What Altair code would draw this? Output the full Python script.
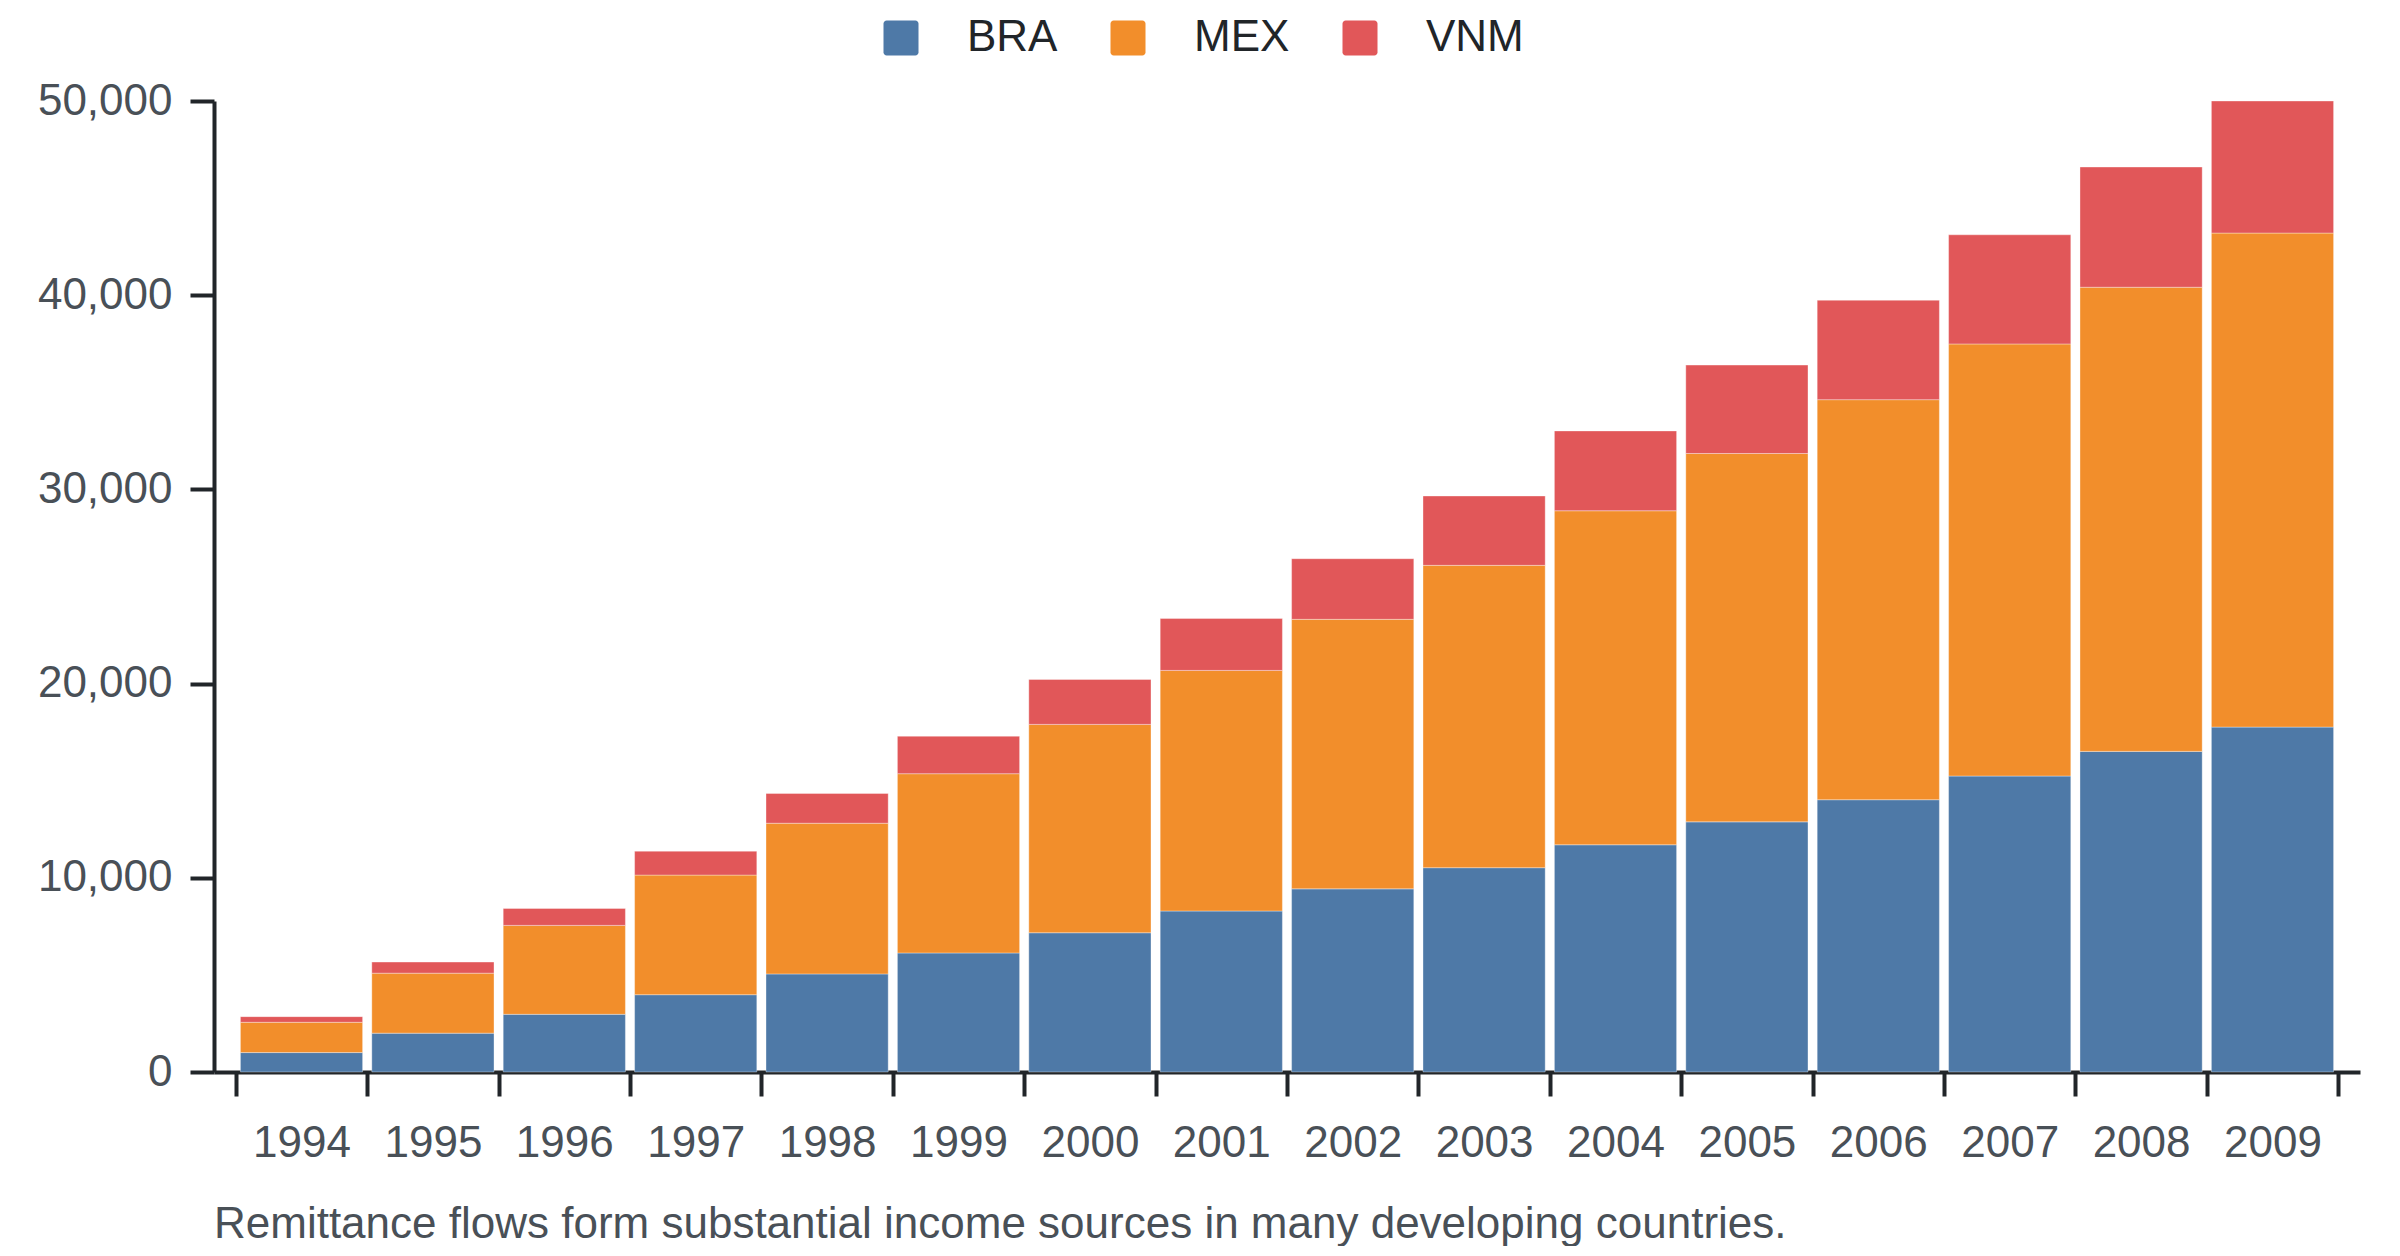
import altair as alt
import pandas as pd

years = ["1994", "1995", "1996", "1997", "1998", "1999", "2000", "2001",
         "2002", "2003", "2004", "2005", "2006", "2007", "2008", "2009"]
countries = ["BRA", "MEX", "VNM"]
colors = ["#4e79a7", "#f28e2b", "#e15759"]

BRA = [1000, 2000, 2970, 3980, 5050, 6130, 7170, 8290,
       9430, 10520, 11700, 12880, 14020, 15240, 16510, 17760]
MEX = [1560, 3090, 4580, 6160, 7760, 9230, 10730, 12390,
       13880, 15570, 17200, 18970, 20600, 22250, 23900, 25440]
VNM = [290, 570, 870, 1230, 1530, 1930, 2310, 2670,
       3120, 3570, 4110, 4550, 5120, 5620, 6190, 6800]

y_ticks = [0, 10000, 20000, 30000, 40000, 50000]
caption = "Remittance flows form substantial income sources in many developing countries."

rows = []
for series_name, vals in zip(countries, [BRA, MEX, VNM]):
    for yr, v in zip(years, vals):
        rows.append({"year": yr, "country": series_name, "value": v,
                     "ord": countries.index(series_name)})
df = pd.DataFrame(rows)

FONT = "Liberation Sans, Arial, Helvetica, sans-serif"
rounded = ("M-1,-0.82 A0.18,0.18 0 0 1 -0.82,-1 L0.82,-1 A0.18,0.18 0 0 1 1,-0.82 "
           "L1,0.82 A0.18,0.18 0 0 1 0.82,1 L-0.82,1 A0.18,0.18 0 0 1 -1,0.82 Z")

chart = alt.Chart(df).mark_bar(
    width=alt.RelativeBandSize(0.93),
    stroke="white", strokeWidth=1, strokeOpacity=0.35
).encode(
    x=alt.X("year:N", sort=years, title=None,
            scale=alt.Scale(paddingInner=0, paddingOuter=0.166),
            axis=alt.Axis(labelAngle=0, tickBand="extent", labelPadding=25)),
    y=alt.Y("value:Q", stack="zero", title=None,
            scale=alt.Scale(domain=[0, 50000], nice=False),
            axis=alt.Axis(values=y_ticks, format=",d", labelPadding=18)),
    color=alt.Color("country:N",
                    scale=alt.Scale(domain=countries, range=colors),
                    legend=alt.Legend(orient="none", legendX=665, legendY=-85,
                                      direction="horizontal", title=None,
                                      labelFontSize=44, labelColor="#212529",
                                      labelFont=FONT, symbolSize=1225,
                                      symbolType=rounded, symbolStrokeWidth=0,
                                      symbolOpacity=1,
                                      labelOffset=44, columnPadding=48)),
    order=alt.Order("ord:Q", sort="ascending"),
).properties(
    width=2146, height=971,
    autosize=alt.AutoSizeParams(type="none"),
    padding={"left": 206, "top": 93, "right": 24, "bottom": 174},
    title=alt.TitleParams(text=caption, orient="bottom", anchor="start",
                          frame="group", fontSize=44, fontWeight="normal",
                          color="#495057", font=FONT, offset=38),
).configure_view(stroke=None).configure_axis(
    domainColor="#212529", tickColor="#212529", domainWidth=4, tickWidth=4,
    tickSize=24, labelFontSize=44, labelColor="#495057", labelFont=FONT,
    grid=False,
)

chart.save("out.html", embed_options={"renderer": "svg", "actions": False})
